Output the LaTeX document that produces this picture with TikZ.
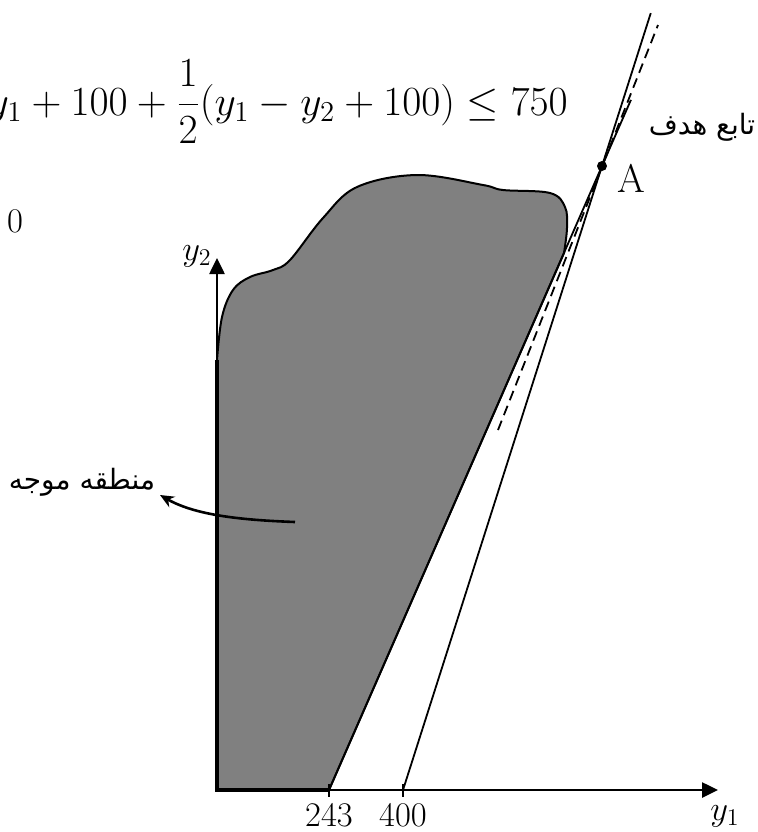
\documentclass[tikz,border=0pt]{standalone}
\usepackage{amsmath}
\usepackage{amssymb}
\usepackage{fontspec}
\usepackage{tikz}
\usetikzlibrary{positioning,arrows.meta,calc}
\newfontfamily\arabicfont[Script=Arabic]{DejaVu Sans}
\TeXXeTstate=1

\begin{document}
\begin{tikzpicture}[x=0.5pt,y=-0.5pt,
    axis/.style={line width=1.3pt,-{Triangle[length=8pt,width=7.5pt]}},
    bound/.style={line width=0.9pt},
    lab/.style={font=\fontsize{17}{20}\selectfont,inner sep=1pt},
    fa/.style={font=\arabicfont\fontsize{14}{18}\selectfont}]
  \useasboundingbox (0,0) rectangle (757,832);
  \coordinate (O) at (217,790);
  \coordinate (xend) at (718,790);
  \coordinate (yend) at (217,258);
  \coordinate (p243) at (329,790);
  \coordinate (p400) at (403,790);
  \coordinate (A) at (602,166);
  % feasible region
  \filldraw[fill=gray,line width=1pt] (O) -- plot[smooth,tension=0.6] coordinates {(217,360) (222,317) (233,290) (250,277) (273,270) (290,260) (323,218) (357,187) (417,175) (483,185) (503,190) (550,193) (565,207) (567,228) (564,253)} -- (p243) -- cycle;
  \draw[line width=2.2pt] (217,360) -- (O) -- (p243);
  % axes
  \draw[axis] (O) -- (xend);
  \draw[axis] (O) -- (yend);
  \node[lab] (ylab1) at (725,816) {$y_1$};
  \node[lab] (ylab2) at (197,256) {$y_2$};
  \foreach \x/\lab in {329/243, 403/400} {
    \draw[bound] (\x,784) -- (\x,797);
    \node[lab] (t\lab) at (\x,815) {$\lab$};
  }
  % constraint lines through A
  \draw[bound] (p243) -- ($(p243)!1.106!(A)$);
  \draw[bound] (p400) -- ($(p400)!1.245!(A)$);
  % objective (dashed)
  \draw[bound,dash pattern=on 5pt off 3pt] (498,430) -- (658,25);
  \fill (A) circle[radius=5];
  \node[font=\fontsize{20}{24}\selectfont] (Alab) at (631,178) {A};
  \node[fa] (obj) at (702,127) {\beginR تابع هدف\endR};
  % feasible label
  \node[fa] (feas) at (82,482) {\beginR منطقه موجه\endR};
  \coordinate (tip) at (160,495);
  \draw[line width=1.3pt,-{Stealth[length=7pt,width=6pt]}] (295,522) .. controls (240,520) and (195,515) .. (tip);
  % constraint text
  \node[font=\fontsize{20}{24}\selectfont,anchor=base east,inner sep=0pt] (cons) at (568,115) {$\displaystyle y_1+100+\frac{1}{2}(y_1-y_2+100)\le 750$};
  \node[font=\fontsize{19}{23}\selectfont] (nonneg) at (15,221) {$0$};
\end{tikzpicture}
\end{document}
